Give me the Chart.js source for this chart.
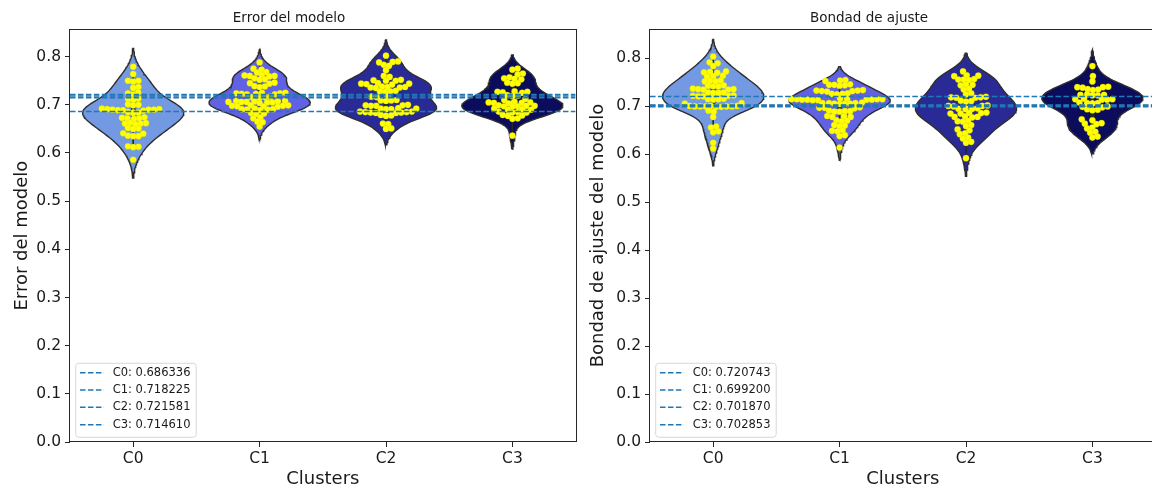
<!DOCTYPE html>
<html>
<head>
<meta charset="utf-8">
<script src="https://cdn.jsdelivr.net/npm/chart.js@4.4.1/dist/chart.umd.min.js"></script>
<style>
  html, body { margin: 0; padding: 0; background: #fff; overflow: hidden; }
  #wrap { position: relative; width: 1152px; height: 491px; overflow: hidden; }
  canvas { position: absolute; top: 0; }
</style>
</head>
<body>
<div id="wrap">
  <canvas id="errorChart" width="580" height="491" style="left:0px"></canvas>
  <canvas id="fitChart" width="580" height="491" style="left:580px"></canvas>
</div>
<script>
// ---- data ----
const categories = ['C0', 'C1', 'C2', 'C3'];
const yTicks = [0, 0.1, 0.2, 0.3, 0.4, 0.5, 0.6, 0.7, 0.8];

const errorC0 = [0.779, 0.764, 0.750, 0.750, 0.748, 0.737, 0.735, 0.726, 0.724, 0.722, 0.713, 0.712, 0.710, 0.701, 0.700, 0.699, 0.692, 0.691, 0.691, 0.690, 0.690, 0.690, 0.689, 0.689, 0.688, 0.685, 0.684, 0.683, 0.674, 0.673, 0.672, 0.672, 0.671, 0.663, 0.662, 0.661, 0.661, 0.660, 0.652, 0.651, 0.650, 0.641, 0.640, 0.636, 0.635, 0.635, 0.614, 0.613, 0.612, 0.586];
const errorC1 = [0.788, 0.775, 0.773, 0.768, 0.767, 0.762, 0.761, 0.760, 0.760, 0.759, 0.755, 0.753, 0.752, 0.746, 0.745, 0.744, 0.739, 0.738, 0.737, 0.725, 0.725, 0.724, 0.724, 0.723, 0.723, 0.722, 0.722, 0.717, 0.716, 0.716, 0.715, 0.708, 0.708, 0.707, 0.707, 0.706, 0.706, 0.706, 0.705, 0.705, 0.704, 0.699, 0.699, 0.698, 0.698, 0.697, 0.697, 0.696, 0.692, 0.691, 0.691, 0.690, 0.690, 0.689, 0.683, 0.682, 0.681, 0.674, 0.672, 0.665, 0.664, 0.655];
const errorC2 = [0.802, 0.790, 0.789, 0.788, 0.783, 0.781, 0.772, 0.760, 0.758, 0.752, 0.751, 0.750, 0.750, 0.745, 0.744, 0.744, 0.743, 0.742, 0.738, 0.737, 0.737, 0.736, 0.736, 0.735, 0.729, 0.728, 0.728, 0.727, 0.718, 0.717, 0.716, 0.710, 0.709, 0.709, 0.708, 0.700, 0.699, 0.699, 0.698, 0.698, 0.693, 0.692, 0.692, 0.691, 0.691, 0.686, 0.686, 0.685, 0.685, 0.684, 0.684, 0.683, 0.683, 0.679, 0.678, 0.677, 0.661, 0.660, 0.651, 0.650];
const errorC3 = [0.775, 0.773, 0.765, 0.763, 0.757, 0.755, 0.754, 0.753, 0.746, 0.745, 0.744, 0.728, 0.727, 0.727, 0.726, 0.725, 0.720, 0.719, 0.718, 0.712, 0.710, 0.706, 0.705, 0.705, 0.704, 0.704, 0.703, 0.699, 0.698, 0.698, 0.697, 0.697, 0.696, 0.692, 0.691, 0.690, 0.690, 0.686, 0.685, 0.684, 0.684, 0.679, 0.678, 0.677, 0.672, 0.671, 0.636];
const errorMeans = [0.686336, 0.718225, 0.721581, 0.714610];

const fitC0 = [0.804, 0.792, 0.790, 0.784, 0.773, 0.772, 0.771, 0.770, 0.764, 0.763, 0.762, 0.754, 0.753, 0.752, 0.752, 0.744, 0.743, 0.742, 0.742, 0.737, 0.736, 0.736, 0.735, 0.735, 0.729, 0.729, 0.728, 0.728, 0.723, 0.722, 0.722, 0.721, 0.721, 0.716, 0.715, 0.715, 0.714, 0.707, 0.706, 0.701, 0.701, 0.701, 0.700, 0.700, 0.700, 0.700, 0.700, 0.699, 0.699, 0.691, 0.689, 0.678, 0.658, 0.656, 0.648, 0.646, 0.624, 0.612];
const fitC1 = [0.755, 0.754, 0.753, 0.746, 0.745, 0.745, 0.744, 0.743, 0.734, 0.733, 0.733, 0.732, 0.732, 0.731, 0.727, 0.726, 0.726, 0.725, 0.716, 0.716, 0.715, 0.715, 0.715, 0.715, 0.714, 0.714, 0.714, 0.714, 0.713, 0.713, 0.708, 0.707, 0.707, 0.707, 0.706, 0.706, 0.706, 0.705, 0.698, 0.697, 0.697, 0.696, 0.691, 0.690, 0.690, 0.689, 0.689, 0.680, 0.679, 0.678, 0.678, 0.671, 0.670, 0.669, 0.661, 0.660, 0.659, 0.650, 0.649, 0.648, 0.640, 0.638, 0.614];
const fitC2 = [0.773, 0.765, 0.764, 0.763, 0.757, 0.756, 0.756, 0.755, 0.746, 0.745, 0.744, 0.737, 0.735, 0.727, 0.725, 0.720, 0.719, 0.719, 0.718, 0.718, 0.712, 0.711, 0.710, 0.702, 0.701, 0.701, 0.700, 0.696, 0.695, 0.695, 0.694, 0.687, 0.686, 0.686, 0.685, 0.685, 0.679, 0.678, 0.678, 0.677, 0.670, 0.669, 0.668, 0.661, 0.659, 0.652, 0.650, 0.644, 0.642, 0.635, 0.633, 0.626, 0.624, 0.592];
const fitC3 = [0.784, 0.763, 0.752, 0.741, 0.740, 0.740, 0.739, 0.736, 0.735, 0.734, 0.725, 0.724, 0.724, 0.723, 0.723, 0.716, 0.715, 0.715, 0.714, 0.714, 0.708, 0.707, 0.707, 0.706, 0.700, 0.699, 0.698, 0.694, 0.693, 0.692, 0.673, 0.671, 0.665, 0.664, 0.663, 0.656, 0.654, 0.647, 0.645, 0.637, 0.635];
const fitMeans = [0.720743, 0.699200, 0.701870, 0.702853];

// ---- style ----
const violinColors = ['#7399e3', '#6161e4', '#2a2a97', '#0c0c5c'];
const lineBlue = '#1f77b4';
const dash = [5.55, 2.4];
Chart.defaults.font.family = "'DejaVu Sans', sans-serif";
Chart.defaults.color = '#1a1a1a';

// gaussian kde, scott bandwidth, cut = 2 (like seaborn)
function violinShape(vals) {
  const n = vals.length;
  const mean = vals.reduce((a, b) => a + b, 0) / n;
  const sd = Math.sqrt(vals.reduce((a, b) => a + (b - mean) ** 2, 0) / (n - 1));
  const bw = sd * Math.pow(n, -0.2);
  const lo = Math.min(...vals) - 2 * bw, hi = Math.max(...vals) + 2 * bw;
  const grid = [];
  for (let k = 0; k < 100; k++) {
    const y = lo + (hi - lo) * k / 99;
    let d = 0;
    for (const v of vals) d += Math.exp(-0.5 * ((y - v) / bw) ** 2);
    grid.push({ y, d });
  }
  const m = Math.max(...grid.map(g => g.d));
  return grid.map(g => ({ y: g.y, w: g.d / m }));
}

function pct(sorted, p) {
  const idx = (sorted.length - 1) * p;
  const lo = Math.floor(idx), hi = Math.ceil(idx);
  return sorted[lo] + (sorted[hi] - sorted[lo]) * (idx - lo);
}

// beeswarm offsets in pixels
function swarmOffsets(vals, pxY, d) {
  const order = vals.map((v, i) => i).sort((a, b) => vals[a] - vals[b]);
  const placed = [];
  const offs = new Array(vals.length);
  for (const i of order) {
    const y = vals[i] * pxY;
    const near = placed.filter(p => Math.abs(p.y - y) < d);
    const cands = [0];
    for (const p of near) {
      const dx = Math.sqrt(d * d - (p.y - y) ** 2);
      cands.push(p.x + dx, p.x - dx);
    }
    cands.sort((a, b) => Math.abs(a) - Math.abs(b));
    let x = 0;
    for (const c of cands) {
      if (near.every(p => (p.x - c) ** 2 + (p.y - y) ** 2 >= d * d - 1e-6)) { x = c; break; }
    }
    placed.push({ x, y });
    offs[i] = x;
  }
  return offs;
}

const frame = {
  id: 'frame',
  afterDatasetsDraw(chart) {
    const { ctx, chartArea: a } = chart;
    ctx.save();
    ctx.strokeStyle = '#262626';
    ctx.lineWidth = 1;
    ctx.strokeRect(Math.round(a.left) - 0.5, Math.round(a.top) + 0.5,
      Math.round(a.right - a.left) + 1, Math.round(a.bottom - a.top) - 1);
    ctx.restore();
  }
};

const meanLegend = {
  id: 'meanLegend',
  afterDraw(chart, args, opts) {
    const { ctx, chartArea: a } = chart;
    const x0 = a.left + 5.7, y0 = a.bottom - 78.7, w = 120.5, h = 74, r = 3;
    ctx.save();
    ctx.beginPath();
    ctx.moveTo(x0 + r, y0);
    ctx.arcTo(x0 + w, y0, x0 + w, y0 + h, r);
    ctx.arcTo(x0 + w, y0 + h, x0, y0 + h, r);
    ctx.arcTo(x0, y0 + h, x0, y0, r);
    ctx.arcTo(x0, y0, x0 + w, y0, r);
    ctx.closePath();
    ctx.fillStyle = 'rgba(255,255,255,0.85)';
    ctx.fill();
    ctx.strokeStyle = '#d8d8d8';
    ctx.lineWidth = 1;
    ctx.stroke();
    opts.labels.forEach((t, k) => {
      const y = a.bottom - 69.3 + k * 17.33;
      ctx.setLineDash(dash);
      ctx.strokeStyle = lineBlue;
      ctx.lineWidth = 1.5;
      ctx.beginPath();
      ctx.moveTo(a.left + 10, y);
      ctx.lineTo(a.left + 34, y);
      ctx.stroke();
      ctx.setLineDash([]);
      ctx.fillStyle = '#1a1a1a';
      ctx.font = "11.5px 'DejaVu Sans'";
      ctx.textBaseline = 'middle';
      ctx.fillText(t, a.left + 42.7, y);
    });
    ctx.restore();
  }
};

function makeChart(id, groups, means, yMax, title, yTitle, yTitlePad) {
  const datasets = [];
  groups.forEach((vals, i) => {
    const shape = violinShape(vals);
    const right = shape.map(g => ({ x: i + 0.4 * g.w, y: g.y }));
    const left = shape.slice().reverse().map(g => ({ x: i - 0.4 * g.w, y: g.y }));
    datasets.push({
      data: right.concat(left, [right[0]]), fill: 'shape', backgroundColor: violinColors[i],
      borderColor: '#2e2e2e', borderWidth: 1.4, pointRadius: 0, tension: 0, order: 5
    });
    const s = vals.slice().sort((a, b) => a - b);
    const q1 = pct(s, 0.25), q2 = pct(s, 0.5), q3 = pct(s, 0.75), iqr = q3 - q1;
    const h1 = Math.min(...s.filter(v => v >= q1 - 1.5 * iqr));
    const h2 = Math.max(...s.filter(v => v <= q3 + 1.5 * iqr));
    datasets.push({ data: [{ x: i, y: h1 }, { x: i, y: h2 }], borderColor: '#262626', borderWidth: 1.6, pointRadius: 0, order: 4 });
    datasets.push({ data: [{ x: i, y: q1 }, { x: i, y: q3 }], borderColor: '#262626', borderWidth: 4.5, pointRadius: 0, order: 3 });
    datasets.push({ data: [{ x: i, y: q2 }], showLine: false, pointRadius: 2.2, pointBackgroundColor: '#fff', pointBorderWidth: 0, order: 2 });
    datasets.push({
      swarm: i, values: vals, data: vals.map(v => ({ x: i, y: v })), showLine: false,
      pointRadius: 3.1, pointBackgroundColor: '#ffff00', pointBorderColor: 'rgba(215,215,0,0.7)', pointBorderWidth: 0.4, order: 1
    });
  });
  means.forEach(m => {
    datasets.push({
      data: [{ x: -0.5, y: m }, { x: 3.5, y: m }], borderColor: lineBlue, borderWidth: 1.5,
      borderDash: dash, pointRadius: 0, order: 0
    });
  });

  const chart = new Chart(document.getElementById(id), {
    type: 'line',
    data: { datasets },
    options: {
      responsive: false,
      animation: false,
      events: [],
      layout: { padding: { left: 0, right: 2, top: 0, bottom: 0 } },
      plugins: {
        legend: { display: false },
        tooltip: { enabled: false },
        title: { display: true, text: title, font: { size: 13.5, weight: 'normal' }, color: '#1a1a1a', padding: { top: 10, bottom: 3 } },
        meanLegend: { labels: categories.map((c, i) => c + ': ' + means[i].toFixed(6)) }
      },
      scales: {
        x: {
          type: 'linear', min: -0.5, max: 3.5,
          afterBuildTicks: s => { s.ticks = categories.map((c, i) => ({ value: i })); },
          afterFit: s => { s.height = 49; },
          ticks: { callback: v => categories[v], font: { size: 15.5 }, color: '#1a1a1a', padding: 3, maxRotation: 0 },
          grid: { drawOnChartArea: false, tickLength: 5, tickColor: '#262626' },
          border: { display: false },
          title: { display: true, text: 'Clusters', font: { size: 18 }, color: '#1a1a1a', padding: { top: 0, bottom: 1 } }
        },
        y: {
          type: 'linear', min: 0, max: yMax,
          afterBuildTicks: s => { s.ticks = yTicks.map(v => ({ value: v })); },
          afterFit: s => { s.width = 70; },
          ticks: { callback: v => v.toFixed(1), font: { size: 15.5 }, color: '#1a1a1a', padding: 4 },
          grid: { drawOnChartArea: false, tickLength: 5, tickColor: '#262626' },
          border: { display: false },
          title: { display: true, text: yTitle, font: { size: 18 }, color: '#1a1a1a', padding: { top: yTitlePad, bottom: 0 } }
        }
      }
    },
    plugins: [frame, meanLegend]
  });

  // place swarm points using the chart's own scales
  const xs = chart.scales.x, ys = chart.scales.y;
  const pxX = xs.getPixelForValue(1) - xs.getPixelForValue(0);
  const pxY = ys.getPixelForValue(0) - ys.getPixelForValue(1);
  chart.data.datasets.forEach(ds => {
    if (ds.swarm === undefined) return;
    const offs = swarmOffsets(ds.values, pxY, 5.3);
    ds.data = ds.values.map((v, k) => ({ x: ds.swarm + offs[k] / pxX, y: v }));
  });
  chart.update('none');
  return chart;
}

makeChart('errorChart', [errorC0, errorC1, errorC2, errorC3], errorMeans, 0.857,
  'Error del modelo', 'Error del modelo', 12);
makeChart('fitChart', [fitC0, fitC1, fitC2, fitC3], fitMeans, 0.861,
  'Bondad de ajuste', 'Bondad de ajuste del modelo', 8);
</script>
</body>
</html>
